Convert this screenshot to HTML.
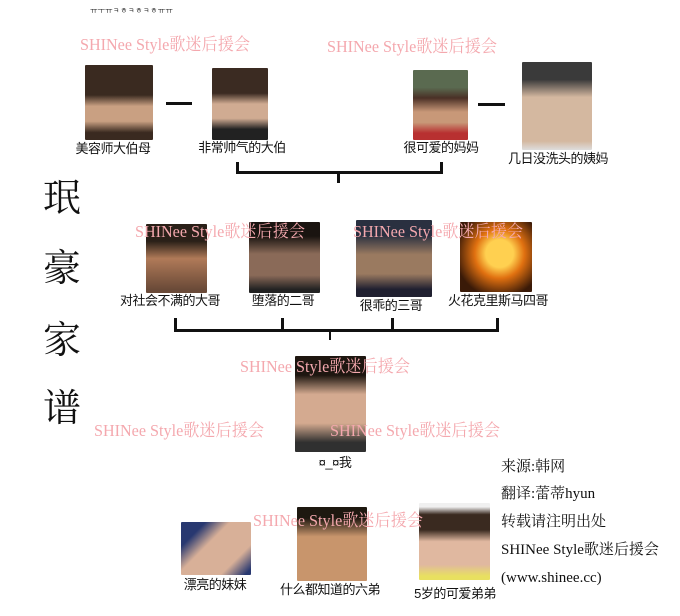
<!DOCTYPE html>
<html><head><meta charset="utf-8"><style>
body{margin:0;width:680px;height:616px;background:#fff;position:relative;overflow:hidden;font-family:"Liberation Serif","Noto Serif CJK SC",serif;}
div{position:absolute;}
.p{border-radius:1px;}
.l{font-size:13px;color:#111;white-space:nowrap;transform:translateX(-50%);line-height:14px;font-family:"Liberation Sans","Noto Sans CJK SC",sans-serif;letter-spacing:-0.5px;}
.w{color:#f4a8ae;font-size:17px;white-space:nowrap;font-family:"Liberation Serif","Noto Serif CJK SC",serif;transform-origin:0 0;transform:scaleX(0.95);line-height:18px;}
.b{background:#111;}
.t{font-size:38px;color:#111;line-height:38px;font-family:"Noto Serif CJK SC",serif;}
.r{font-size:15px;color:#111;white-space:nowrap;font-family:"Liberation Serif","Noto Serif CJK SC",serif;line-height:16px;}
</style></head><body>
<div style="left:90px;top:6px;font-size:8px;color:#222;font-family:'NanumGothic',sans-serif;white-space:nowrap">ㅠㅜㅠㅋㅎㅋㅎㅋㅎㅠㅠ</div>

<div class="p" style="left:85px;top:65px;width:68px;height:75px;background:linear-gradient(#3a2a20 0 40%,#c9a082 55% 75%,#3a2a20 90%)"></div>
<div class="p" style="left:212px;top:68px;width:56px;height:72px;background:linear-gradient(#3b2b22 0 35%,#d0ab92 50% 70%,#222 85%)"></div>
<div class="p" style="left:413px;top:70px;width:55px;height:70px;background:linear-gradient(#5a6a50 0 25%,#4a3026 40%,#c89878 60% 75%,#b83030 90%)"></div>
<div class="p" style="left:522px;top:62px;width:70px;height:88px;background:linear-gradient(#3a3a3a 0 20%,#d4b8a0 40% 90%,#ddd 100%)"></div>
<div class="b" style="left:166px;top:102px;width:26px;height:3px"></div>
<div class="b" style="left:478px;top:103px;width:27px;height:3px"></div>
<div class="l" style="left:113px;top:142px">美容师大伯母</div>
<div class="l" style="left:242px;top:141px">非常帅气的大伯</div>
<div class="l" style="left:441px;top:141px">很可爱的妈妈</div>
<div class="l" style="left:558px;top:152px">几日没洗头的姨妈</div>
<div class="b" style="left:236px;top:162px;width:3px;height:11px"></div>
<div class="b" style="left:440px;top:162px;width:3px;height:11px"></div>
<div class="b" style="left:236px;top:171px;width:207px;height:3px"></div>
<div class="b" style="left:337px;top:171px;width:3px;height:12px"></div>

<div class="t" style="left:43px;top:176px">珉</div>
<div class="t" style="left:43px;top:246px">豪</div>
<div class="t" style="left:43px;top:318px">家</div>
<div class="t" style="left:43px;top:386px">谱</div>

<div class="p" style="left:146px;top:224px;width:61px;height:69px;background:linear-gradient(#2a2018 0 25%,#b07a58 50%,#6a4a38 95%)"></div>
<div class="p" style="left:249px;top:222px;width:71px;height:71px;background:linear-gradient(#1a1410 0 20%,#8a6a58 45% 75%,#222 95%)"></div>
<div class="p" style="left:356px;top:220px;width:76px;height:77px;background:linear-gradient(#2a3040 0 20%,#9a7a60 45% 70%,#202030 90%)"></div>
<div class="p" style="left:460px;top:222px;width:72px;height:70px;background:radial-gradient(circle at 55% 45%,#ffd050 0 25%,#e07010 45%,#3a1a08 80%)"></div>
<div class="l" style="left:170px;top:294px">对社会不满的大哥</div>
<div class="l" style="left:283px;top:294px">堕落的二哥</div>
<div class="l" style="left:391px;top:299px">很乖的三哥</div>
<div class="l" style="left:498px;top:294px">火花克里斯马四哥</div>
<div class="b" style="left:174px;top:318px;width:3px;height:13px"></div>
<div class="b" style="left:281px;top:318px;width:3px;height:13px"></div>
<div class="b" style="left:391px;top:318px;width:3px;height:13px"></div>
<div class="b" style="left:496px;top:318px;width:3px;height:13px"></div>
<div class="b" style="left:174px;top:329px;width:325px;height:3px"></div>
<div class="b" style="left:329px;top:329px;width:2px;height:11px"></div>

<div class="p" style="left:295px;top:356px;width:71px;height:96px;background:linear-gradient(#1e1610 0 20%,#d4aa90 40% 70%,#303030 90%)"></div>
<div class="l" style="left:335px;top:456px">¤_¤我</div>

<div class="p" style="left:181px;top:522px;width:70px;height:53px;background:linear-gradient(135deg,#283870 0 20%,#d8b098 40% 75%,#283870 95%)"></div>
<div class="p" style="left:297px;top:507px;width:70px;height:74px;background:linear-gradient(#1e1810 0 15%,#c8956c 40%)"></div>
<div class="p" style="left:419px;top:503px;width:71px;height:77px;background:linear-gradient(#f0f0f0 0 5%,#3a2a20 15% 35%,#e0b8a0 50% 80%,#e8e060 95%)"></div>
<div class="l" style="left:215px;top:578px">漂亮的妹妹</div>
<div class="l" style="left:330px;top:583px">什么都知道的六弟</div>
<div class="l" style="left:455px;top:587px">5岁的可爱弟弟</div>

<div class="r" style="left:501px;top:459px">来源:韩网</div>
<div class="r" style="left:501px;top:486px">翻译:蕾蒂hyun</div>
<div class="r" style="left:501px;top:514px">转载请注明出处</div>
<div class="r" style="left:501px;top:542px">SHINee Style歌迷后援会</div>
<div class="r" style="left:501px;top:570px">(www.shinee.cc)</div>

<div class="w" style="left:80px;top:36px">SHINee Style歌迷后援会</div>
<div class="w" style="left:327px;top:38px">SHINee Style歌迷后援会</div>
<div class="w" style="left:135px;top:223px">SHINee Style歌迷后援会</div>
<div class="w" style="left:353px;top:223px">SHINee Style歌迷后援会</div>
<div class="w" style="left:240px;top:358px">SHINee Style歌迷后援会</div>
<div class="w" style="left:94px;top:422px">SHINee Style歌迷后援会</div>
<div class="w" style="left:330px;top:422px">SHINee Style歌迷后援会</div>
<div class="w" style="left:253px;top:512px">SHINee Style歌迷后援会</div>
</body></html>
